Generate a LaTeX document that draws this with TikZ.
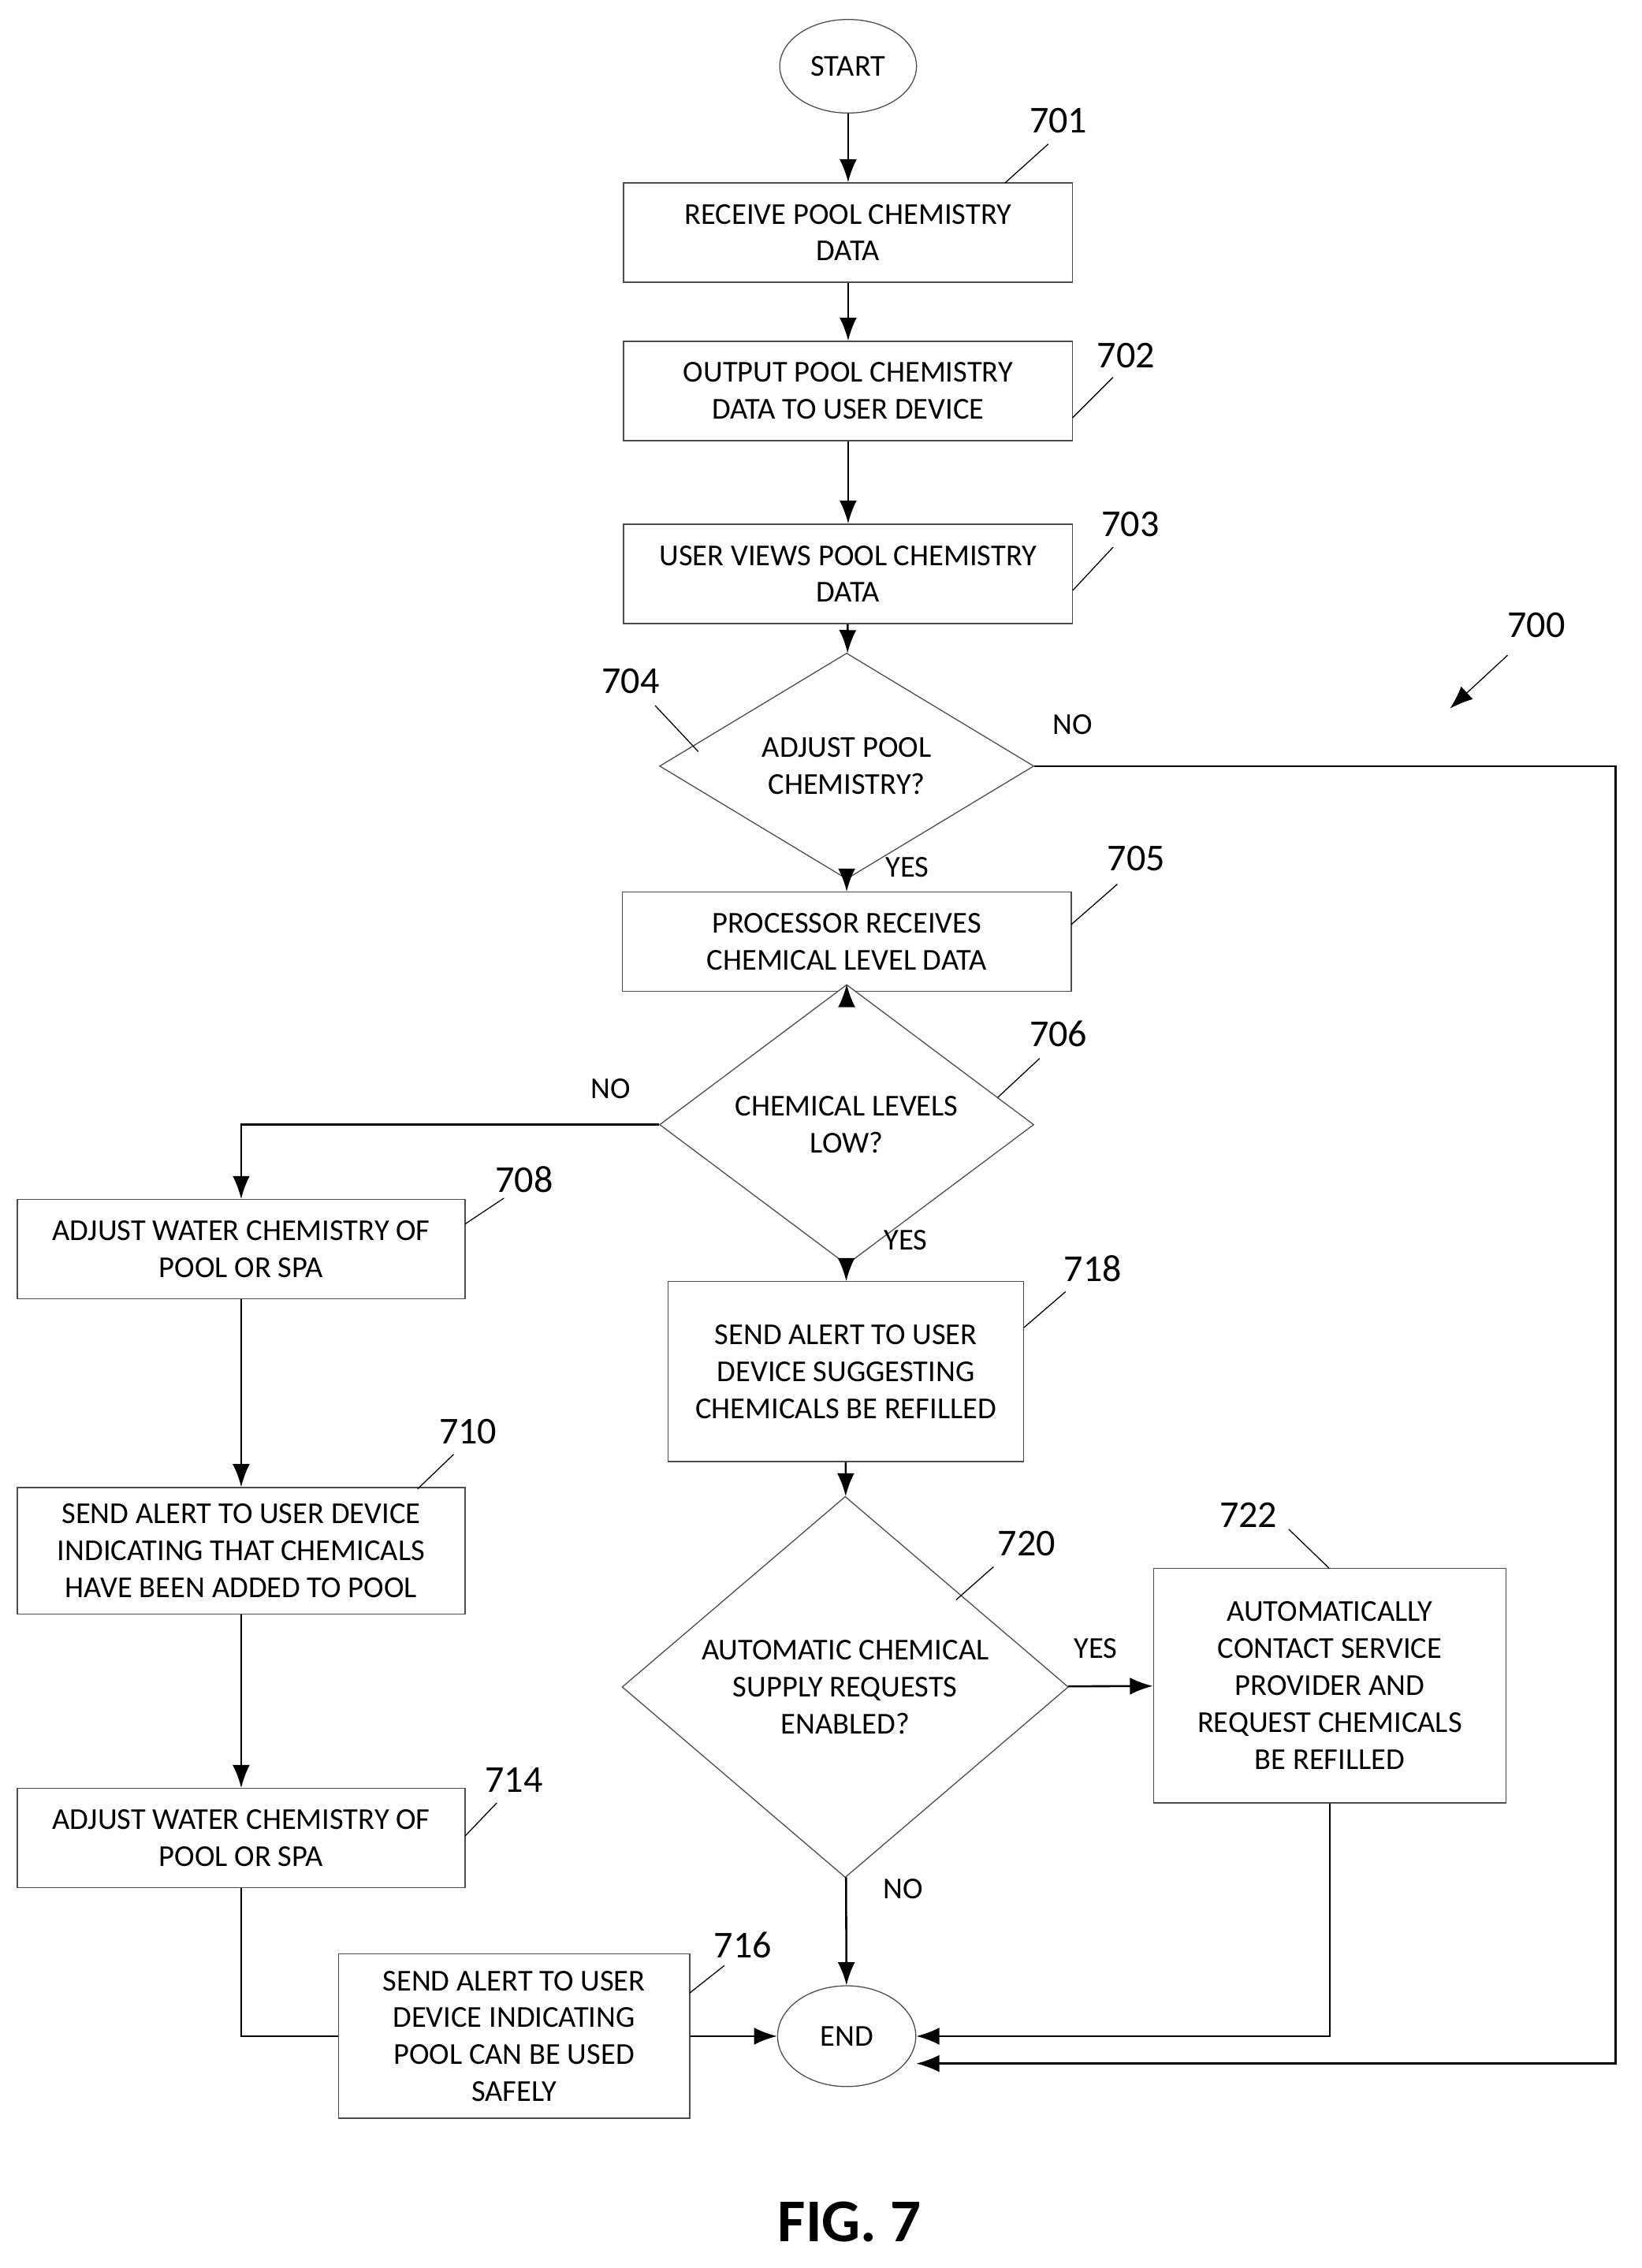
\documentclass[tikz,border=0pt]{standalone}
\usepackage{fontspec}
\setmainfont{Carlito}
\usetikzlibrary{positioning, arrows.meta, shapes.geometric}
\tikzset{
    stage/.style={rectangle, draw=black!70, fill=white, align=center, minimum width=6.24cm, minimum height=1.38cm, inner sep=2pt},
    term/.style={ellipse, draw=black!70, fill=white, minimum width=1.9cm, minimum height=1.3cm, inner sep=0pt},
    decision/.style={diamond, draw=black!70, fill=white, align=center, minimum width=5.2cm, minimum height=2.48cm, inner sep=0pt},
    arrow/.style={-{Latex[length=3.2mm, width=2.4mm]}, thick},
    line/.style={thick},
    ref/.style={font=\fontsize{15}{17}\selectfont},
    lead/.style={thin},
    answer/.style={font=\fontsize{12}{14}\selectfont}
}
\begin{document}
\begin{tikzpicture}[x=0.02cm, y=-0.02cm, font=\fontsize{12}{14.6}\selectfont]
    \useasboundingbox (0,0) rectangle (1140,1575);
    % nodes
    \node[term] (Start) at (589,46) {START};
    \node[stage] (Receive) at (589,161.5) {RECEIVE POOL CHEMISTRY\\DATA};
    \node[stage] (Output) at (589,271.5) {OUTPUT POOL CHEMISTRY\\DATA TO USER DEVICE};
    \node[stage] (Views) at (589,398.5) {USER VIEWS POOL CHEMISTRY\\DATA};
    \node[decision] (AdjustQ) at (588,532) {ADJUST POOL\\CHEMISTRY?};
    \node[stage] (Levels) at (588,654) {PROCESSOR RECEIVES\\CHEMICAL LEVEL DATA};
    \node[decision] (LowQ) at (588,781) {CHEMICAL LEVELS\\LOW?};
    \node[stage, minimum width=6.22cm] (AdjustA) at (167.5,867.5) {ADJUST WATER CHEMISTRY OF\\POOL OR SPA};
    \node[stage, minimum width=6.22cm, minimum height=1.76cm] (Added) at (167.5,1077) {SEND ALERT TO USER DEVICE\\INDICATING THAT CHEMICALS\\HAVE BEEN ADDED TO POOL};
    \node[stage, minimum width=6.22cm] (AdjustB) at (167.5,1276.5) {ADJUST WATER CHEMISTRY OF\\POOL OR SPA};
    \node[stage, minimum width=4.88cm, minimum height=2.28cm] (Safe) at (357,1414) {SEND ALERT TO USER\\DEVICE INDICATING\\POOL CAN BE USED\\SAFELY};
    \node[stage, minimum width=4.94cm, minimum height=2.5cm] (Refill) at (587.5,952.5) {SEND ALERT TO USER\\DEVICE SUGGESTING\\CHEMICALS BE REFILLED};
    \node[decision, minimum width=6.2cm, minimum height=4.62cm] (AutoQ) at (587,1171.5) {AUTOMATIC CHEMICAL\\SUPPLY REQUESTS\\ENABLED?};
    \node[stage, minimum width=4.9cm, minimum height=3.26cm] (Contact) at (923.5,1170.5) {AUTOMATICALLY\\CONTACT SERVICE\\PROVIDER AND\\REQUEST CHEMICALS\\BE REFILLED};
    \node[term, minimum width=1.92cm, minimum height=1.4cm] (End) at (588,1414) {END};
    \coordinate (Loop) at (1122,532);
    % connectors
    \draw[arrow] (Start) -- (Receive);
    \draw[arrow] (Receive) -- (Output);
    \draw[arrow] (Output) -- (Views);
    \draw[arrow] (Views) -- (AdjustQ);
    \draw[arrow] (AdjustQ) -- (Levels);
    \draw[arrow] (Levels) -- (LowQ);
    \draw[arrow] (LowQ.west) -| (AdjustA);
    \draw[arrow] (LowQ) -- (Refill);
    \draw[arrow] (AdjustA) -- (Added);
    \draw[arrow] (Added) -- (AdjustB);
    \draw[line] (AdjustB) |- (Safe.west);
    \draw[arrow] (Safe) -- (End);
    \draw[arrow] (Refill) -- (AutoQ);
    \draw[arrow] (AutoQ) -- (Contact);
    \draw[arrow] (AutoQ) -- (End);
    \draw[arrow] (Contact) |- (End);
    \draw[arrow] (AdjustQ.east) -- (Loop) |- ([yshift=-0.38cm]End.east);
    % answers
    \node[answer] at (745,503) {NO};
    \node[answer] at (630,602) {YES};
    \node[answer] at (424,756) {NO};
    \node[answer] at (629,861) {YES};
    \node[answer] at (761,1145) {YES};
    \node[answer] at (627,1312) {NO};
    % reference numerals
    \foreach \num/\tx/\ty/\ax/\ay/\bx/\by in {
        701/735/84/698/127/728/100, 702/782/247/745/290/773/262,
        703/785/364/745/410/773/380, 704/438/473/485/522/455/490,
        705/789/596/744/642/776/614, 706/735/718/693/762/722/735,
        708/364/819/323/850/350/832, 710/325/994/290/1034/315/1010,
        714/357/1236/323/1275/345/1252, 716/516/1351/479/1384/503/1365,
        718/759/881/711/922/740/897, 720/713/1072/664/1111/690/1088,
        722/867/1052/923/1089/895/1062} {
        \node[ref] at (\tx,\ty) {\num};
        \draw[lead] (\ax,\ay) -- (\bx,\by);
    }
    \node[ref] at (1067,434) {700};
    \draw[arrow, thin] (1047,455) -- (1007,492);
    \node[font=\fontsize{24}{28}\selectfont\bfseries] at (590,1543) {FIG. 7};
\end{tikzpicture}
\end{document}
